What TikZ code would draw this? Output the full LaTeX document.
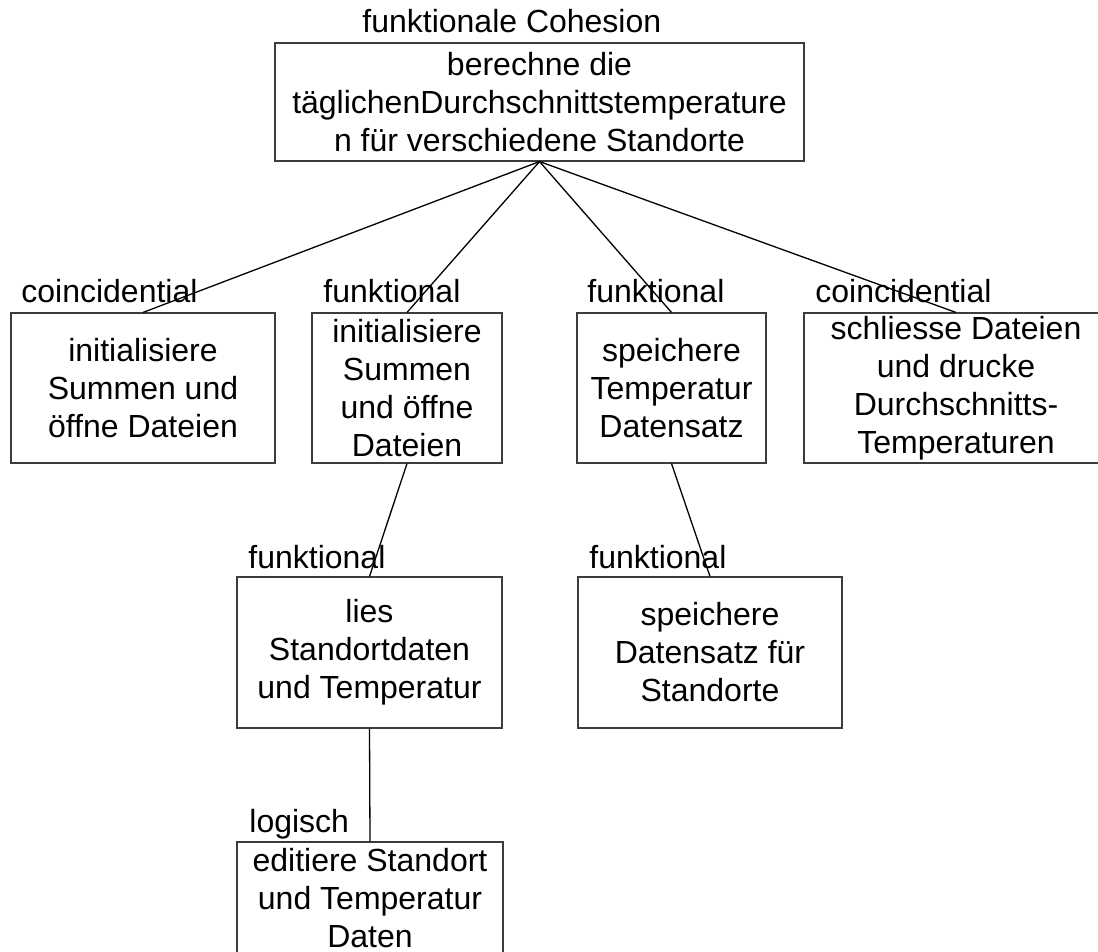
\documentclass[tikz,border=0pt]{standalone}
\usepackage{fontspec}
\setmainfont{Liberation Sans}
\definecolor{ink}{HTML}{000000}
\definecolor{frame}{HTML}{3C3C3C}

\begin{document}
\begin{tikzpicture}[x=0.5pt,y=-0.5pt,
  txt/.style={font=\fontsize{16}{19}\selectfont,color=ink},
  mod/.style={txt,draw=frame,line width=0.55pt,align=center,inner sep=0pt,minimum width=#1},
  coh/.style={txt,anchor=base west,inner sep=0pt},
  link/.style={draw=ink,line width=0.65pt}]
  \useasboundingbox (0,0) rectangle (1098,952);
  % modules
  \node[mod=264.5pt,minimum height=59pt] (top) at (539.5,102) {berechne die\\t\"aglichenDurchschnittstemperature\\n f\"ur verschiedene Standorte};
  \node[mod=132pt,minimum height=75pt] (m1) at (143,388) {initialisiere\\Summen und\\\"offne Dateien};
  \node[mod=95pt,minimum height=75pt] (m2) at (407,388) {initialisiere\\Summen\\und \"offne\\Dateien};
  \node[mod=94.5pt,minimum height=75pt] (m3) at (671.5,388) {speichere\\Temperatur\\Datensatz};
  \node[mod=152pt,minimum height=75pt] (m4) at (956,388) {schliesse Dateien\\und drucke\\Durchschnitts-\\Temperaturen};
  \node[mod=132.5pt,minimum height=75.5pt] (m5) at (369.5,652.5) {lies\\Standortdaten\\und Temperatur};
  \node[mod=132pt,minimum height=75.5pt] (m6) at (710,652.5) {speichere\\Datensatz f\"ur\\Standorte};
  \node[mod=133pt,minimum height=55.6pt] (m7) at (370,897.6) {editiere Standort\\und Temperatur\\Daten};
  % cohesion labels
  \node[coh] (ctop) at (362,33) {funktionale Cohesion};
  \foreach \x/\y/\t [count=\i] in {21/303/coincidential,323/303/funktional,587/303/funktional,815/303/coincidential,248/568/funktional,589/568/funktional,249/832/logisch}
    \node[coh] (c\i) at (\x,\y) {\t};
  % tree
  \foreach \a/\b in {top/m1,top/m2,top/m3,top/m4,m2/m5,m3/m6,m5/m7}
    \draw[link] (\a.south) -- (\b.north);
\end{tikzpicture}
\end{document}
